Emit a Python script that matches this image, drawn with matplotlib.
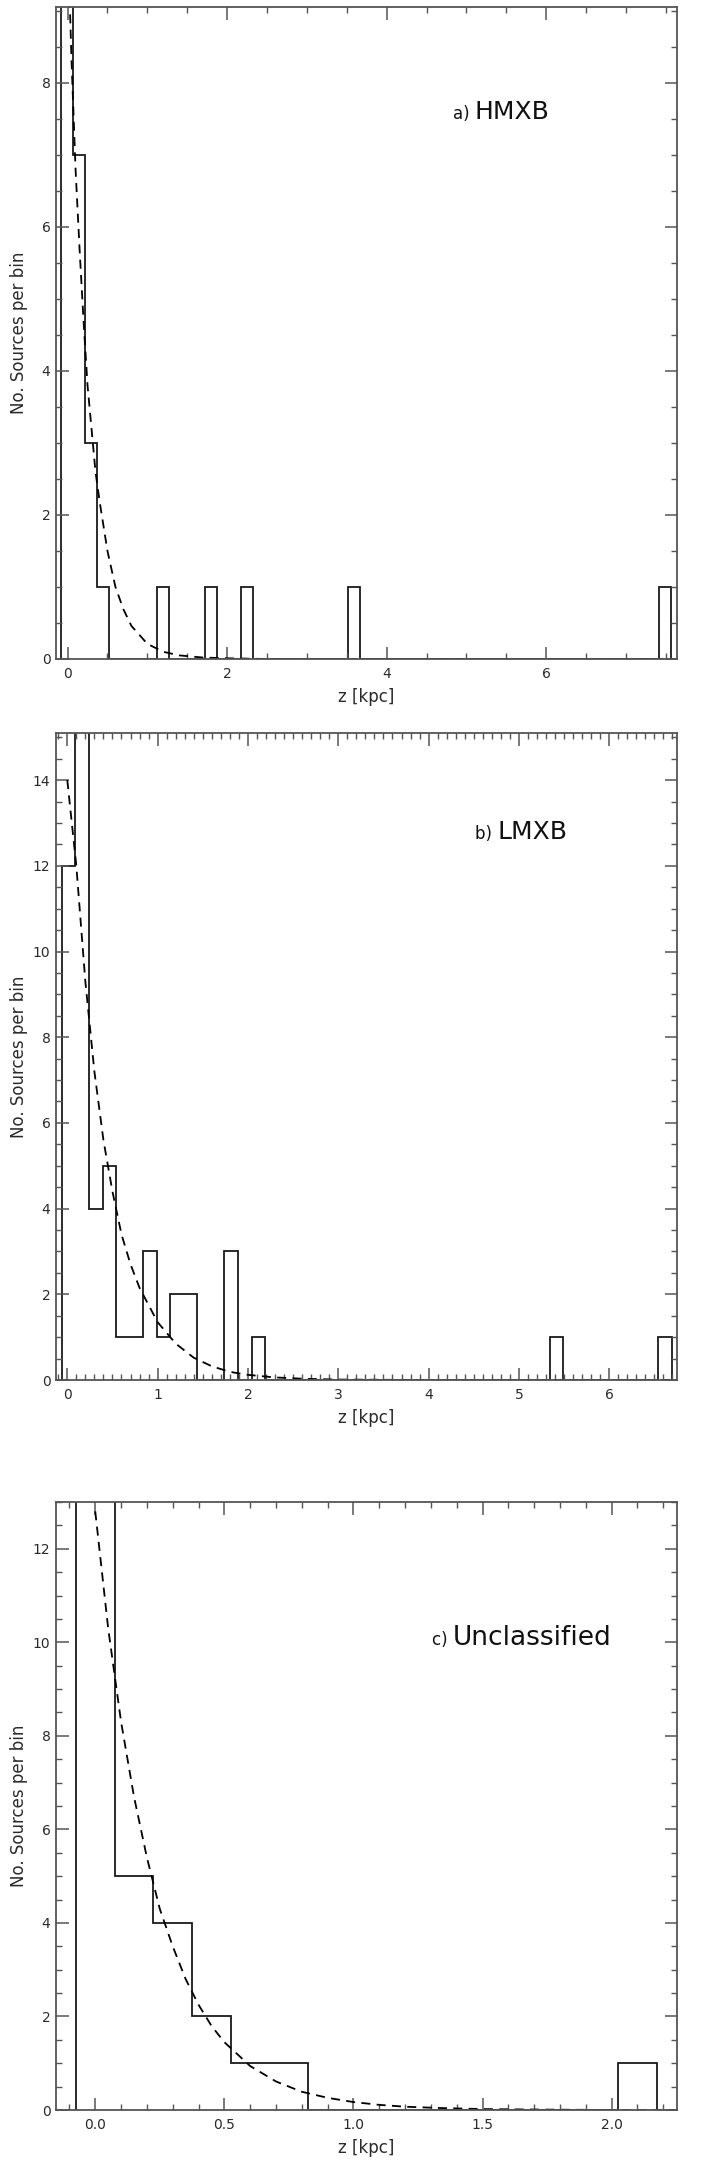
import numpy as np
import matplotlib.pyplot as plt
from matplotlib.ticker import MultipleLocator

plt.rcParams['font.family'] = ['DejaVu Sans']

# ---- data ----
# histogram bins: first edge and width (kpc), non-empty bins as (left edge, count)
hmxb_start, hmxb_width, hmxb_nbins = -0.08, 0.15, 51
hmxb_left = [-0.08, 0.07, 0.22, 0.37, 1.12, 1.72, 2.17, 3.52, 7.42]
hmxb_count = [15, 7, 3, 1, 1, 1, 1, 1, 1]

lmxb_start, lmxb_width, lmxb_nbins = -0.06, 0.15, 45
lmxb_left = [-0.06, 0.09, 0.24, 0.39, 0.54, 0.69, 0.84, 0.99, 1.14, 1.29,
             1.74, 2.04, 5.34, 6.54]
lmxb_count = [12, 20, 4, 5, 1, 1, 3, 1, 2, 2, 3, 1, 1, 1]

uncl_start, uncl_width, uncl_nbins = -0.075, 0.15, 15
uncl_left = [-0.075, 0.075, 0.225, 0.375, 0.525, 0.675, 2.025]
uncl_count = [20, 5, 4, 2, 1, 1, 1]

# dashed fitted profiles
hmxb_fit_z = [0.0, 0.05, 0.1, 0.15, 0.2, 0.25, 0.3, 0.35, 0.4, 0.5, 0.6, 0.7,
              0.8, 1.0, 1.2, 1.4, 1.7, 2.0, 2.5, 3.0, 4.0, 5.0, 6.0, 7.6]
hmxb_fit_n = [10.1, 8.3, 6.8, 5.7, 4.7, 3.8, 3.2, 2.6, 2.2, 1.5, 1.0, 0.69,
              0.46, 0.21, 0.1, 0.05, 0.02, 0.01, 0.0, 0.0, 0.0, 0.0, 0.0, 0.0]

lmxb_fit_z = [0.0, 0.1, 0.2, 0.3, 0.4, 0.5, 0.6, 0.7, 0.8, 1.0, 1.2, 1.4, 1.6,
              1.8, 2.0, 2.3, 2.6, 3.0, 4.0, 5.0, 6.75]
lmxb_fit_n = [14.0, 12.0, 9.3, 7.2, 5.6, 4.4, 3.4, 2.7, 2.15, 1.35, 0.85, 0.52,
              0.32, 0.19, 0.12, 0.06, 0.03, 0.01, 0.0, 0.0, 0.0]

uncl_fit_z = [0.0, 0.05, 0.1, 0.15, 0.2, 0.25, 0.3, 0.35, 0.4, 0.45, 0.5, 0.6,
              0.7, 0.8, 0.9, 1.0, 1.1, 1.2, 1.35, 1.5, 1.7, 2.0, 2.25]
uncl_fit_n = [12.8, 10.3, 8.3, 6.7, 5.4, 4.3, 3.5, 2.8, 2.25, 1.8, 1.45, 0.94,
              0.61, 0.39, 0.26, 0.17, 0.11, 0.07, 0.04, 0.02, 0.01, 0.0, 0.0]

panels = [
    dict(start=hmxb_start, width=hmxb_width, nb=hmxb_nbins, left=hmxb_left,
         count=hmxb_count, fz=hmxb_fit_z, fn=hmxb_fit_n, xlim=(-0.145, 7.64),
         ylim=(0, 9.05), xmaj=2, xmin=0.5, tag='a)', name='HMXB', nsize=18,
         rect=[56, 7, 677, 659], txt=(453, 119)),
    dict(start=lmxb_start, width=lmxb_width, nb=lmxb_nbins, left=lmxb_left,
         count=lmxb_count, fz=lmxb_fit_z, fn=lmxb_fit_n, xlim=(-0.125, 6.75),
         ylim=(0, 15.1), xmaj=1, xmin=0.1, tag='b)', name='LMXB', nsize=18,
         rect=[56, 733, 677, 1380], txt=(475, 839)),
    dict(start=uncl_start, width=uncl_width, nb=uncl_nbins, left=uncl_left,
         count=uncl_count, fz=uncl_fit_z, fn=uncl_fit_n, xlim=(-0.152, 2.253),
         ylim=(0, 13.0), xmaj=0.5, xmin=0.1, tag='c)', name='Unclassified',
         nsize=19, rect=[56, 1502, 677, 2110], txt=(432, 1645)),
]

W, H = 706, 2160
fig = plt.figure(figsize=(W / 100, H / 100), dpi=100)

spine_col = '#555555'
text_col = '#2a2a2a'

for p in panels:
    x0, y0, x1, y1 = p['rect']
    ax = fig.add_axes([x0 / W, 1 - y1 / H, (x1 - x0) / W, (y1 - y0) / H])

    edges = p['start'] + p['width'] * np.arange(p['nb'] + 1)
    counts = np.zeros(p['nb'])
    for l, c in zip(p['left'], p['count']):
        counts[int(round((l - p['start']) / p['width']))] = c
    ax.stairs(counts, edges, color='#1a1a1a', lw=1.3)
    ax.plot(p['fz'], p['fn'], color='black', lw=1.3, ls=(0, (5, 3.5)))

    ax.set_xlim(*p['xlim'])
    ax.set_ylim(*p['ylim'])
    ax.xaxis.set_major_locator(MultipleLocator(p['xmaj']))
    ax.xaxis.set_minor_locator(MultipleLocator(p['xmin']))
    ax.yaxis.set_major_locator(MultipleLocator(2))
    ax.yaxis.set_minor_locator(MultipleLocator(0.5))
    if p['xmaj'] == 0.5:
        ax.xaxis.set_major_formatter(plt.FormatStrFormatter('%.1f'))
    ax.tick_params(which='both', direction='in', top=True, right=True,
                   color=spine_col, labelcolor=text_col, labelsize=10)
    ax.tick_params(axis='x', which='both', pad=6)
    ax.tick_params(axis='y', which='both', pad=4)
    ax.tick_params(which='major', length=9, width=1.1)
    ax.tick_params(which='minor', length=4.5, width=1.0)
    for s in ax.spines.values():
        s.set_color(spine_col)
        s.set_linewidth(1.3)

    # axis titles
    fig.text((x0 + x1) / 2 / W, 1 - (y1 + 38) / H, 'z [kpc]', fontsize=12,
             color=text_col, ha='center', va='center')
    fig.text(19 / W, 1 - (y0 + y1) / 2 / H, 'No. Sources per bin', fontsize=12,
             color=text_col, ha='center', va='center', rotation=90)

    tx, ty = p['txt']
    t = fig.text(tx / W, 1 - ty / H, p['tag'] + ' ', fontsize=12,
                 va='baseline', ha='left', color='#111111')
    fig.canvas.draw()
    bb = t.get_window_extent()
    fig.text(bb.x1 / W, 1 - ty / H, p['name'], fontsize=p['nsize'],
             va='baseline', ha='left', color='#111111')

fig.savefig('out.png', dpi=100)
